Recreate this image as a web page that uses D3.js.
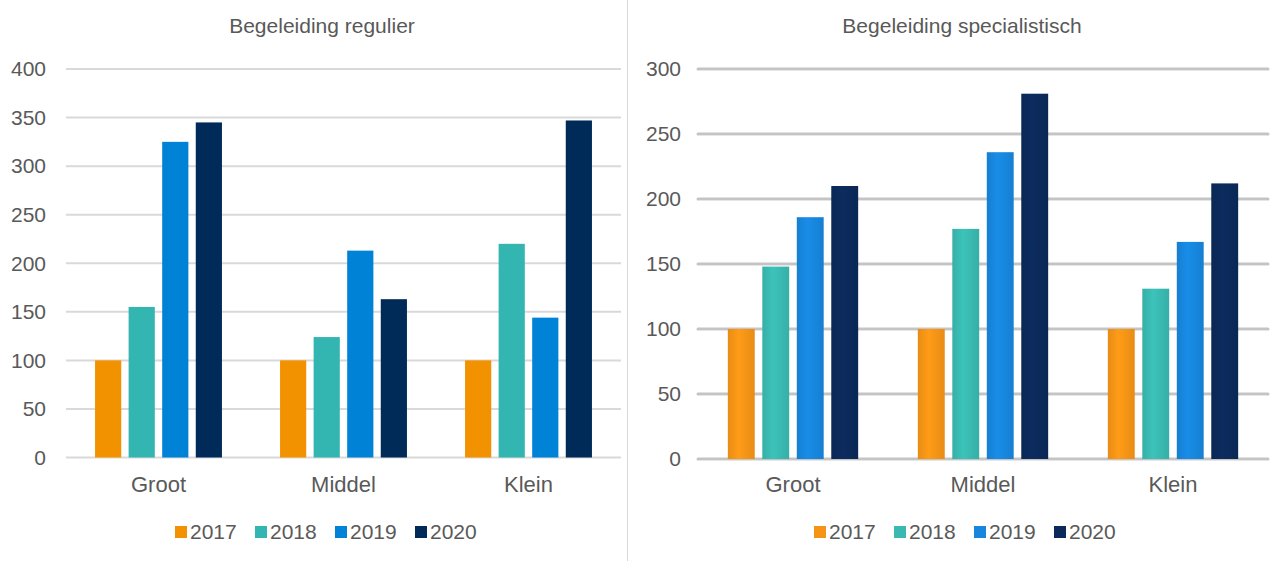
<!DOCTYPE html>
<html>
<head>
<meta charset="utf-8">
<script src="https://cdn.jsdelivr.net/npm/d3@7"></script>
<style>
  body { margin: 0; background: #fff; }
  svg { display: block; font-family: "Liberation Sans", Arial, sans-serif; }
</style>
</head>
<body>
<svg id="chart" width="1287" height="561"></svg>
<script>
// data
var categories = ["Groot", "Middel", "Klein"];
var years = ["2017", "2018", "2019", "2020"];
var reguliereValues = [
  [100, 155, 325, 345],   // Groot
  [100, 124, 213, 163],   // Middel
  [100, 220, 144, 347]    // Klein
];
var specialistValues = [
  [100, 148, 186, 210],
  [100, 177, 236, 281],
  [100, 131, 167, 212]
];
var regulierTicks = [0, 50, 100, 150, 200, 250, 300, 350, 400];
var specialistTicks = [0, 50, 100, 150, 200, 250, 300];

var colorsLeft = ["#f39200", "#33b5b1", "#0082d6", "#002a58"];
var colorsRight = ["#f59416", "#39b9b0", "#1786dc", "#0b2a5a"];

var svg = d3.select("#chart");

// separator between the two charts
svg.append("line")
    .attr("x1", 627.5).attr("x2", 627.5)
    .attr("y1", 0).attr("y2", 561)
    .attr("stroke", "#d9d9d9").attr("stroke-width", 1);

var defs = svg.append("defs");
colorsRight.forEach(function(c, i) {
  var g = defs.append("linearGradient").attr("id", "grad" + i)
      .attr("x1", 0).attr("x2", 1).attr("y1", 0).attr("y2", 0);
  g.append("stop").attr("offset", "0%").attr("stop-color", d3.color(c).darker(0.15));
  g.append("stop").attr("offset", "40%").attr("stop-color", d3.color(c).brighter(0.15));
  g.append("stop").attr("offset", "100%").attr("stop-color", d3.color(c).darker(0.15));
});

function drawPanel(opt) {
  var g = svg.append("g");
  var y = d3.scaleLinear().domain([0, opt.max]).range([opt.bottom, 69]);
  var x0 = d3.scaleBand().domain(categories).range([opt.left, opt.right]).padding(0);
  var bw = x0.bandwidth();
  var pad = bw * 0.157;
  var x1 = d3.scaleBand().domain(years).range([pad, bw - pad]).paddingInner(0.22);

  // title
  g.append("text")
      .attr("x", opt.titleX).attr("y", 33)
      .attr("text-anchor", "middle")
      .attr("font-size", 21).attr("fill", "#595959")
      .text(opt.title);

  // grid
  g.selectAll(".grid")
    .data(opt.ticks)
    .enter().append("line")
      .attr("x1", opt.left).attr("x2", opt.right)
      .attr("y1", function(d) { return y(d); })
      .attr("y2", function(d) { return y(d); })
      .attr("stroke", opt.gridColor)
      .attr("stroke-width", opt.gridWidth)
      .attr("stroke-linecap", opt.fancy ? "round" : "butt");
  if (opt.fancy) {
    g.selectAll(".gridhi")
      .data(opt.ticks)
      .enter().append("line")
        .attr("x1", opt.left + 1).attr("x2", opt.right - 1)
        .attr("y1", function(d) { return y(d) + 1.5; })
        .attr("y2", function(d) { return y(d) + 1.5; })
        .attr("stroke", "#e6e6e6")
        .attr("stroke-width", 1);
  }

  // y labels
  g.selectAll(".ylab")
    .data(opt.ticks)
    .enter().append("text")
      .attr("x", opt.labelX)
      .attr("y", function(d) { return y(d); })
      .attr("dy", "0.35em")
      .attr("text-anchor", "end")
      .attr("font-size", 21).attr("fill", "#595959")
      .text(function(d) { return d; });

  // bars
  var groups = g.selectAll(".grp")
    .data(opt.values)
    .enter().append("g")
      .attr("transform", function(d, i) { return "translate(" + x0(categories[i]) + ",0)"; });
  groups.selectAll("rect")
    .data(function(d) { return d; })
    .enter().append("rect")
      .attr("x", function(d, j) { return x1(years[j]); })
      .attr("y", function(d) { return y(d); })
      .attr("width", x1.bandwidth())
      .attr("height", function(d) { return y(0) - y(d); })
      .attr("fill", function(d, j) { return opt.fancy ? "url(#grad" + j + ")" : opt.colors[j]; });

  // x labels
  g.selectAll(".xlab")
    .data(categories)
    .enter().append("text")
      .attr("x", function(d) { return x0(d) + bw / 2; })
      .attr("y", 492)
      .attr("text-anchor", "middle")
      .attr("font-size", 22).attr("fill", "#595959")
      .text(function(d) { return d; });

  // legend
  var leg = g.selectAll(".leg")
    .data(years)
    .enter().append("g")
      .attr("transform", function(d, i) { return "translate(" + (opt.legendX + i * 80) + ",532)"; });
  leg.append("rect")
      .attr("x", 0).attr("y", -6)
      .attr("width", 12).attr("height", 12)
      .attr("fill", function(d, i) { return opt.colors[i]; });
  leg.append("text")
      .attr("x", 15).attr("y", 0)
      .attr("dy", "0.35em")
      .attr("font-size", 21).attr("fill", "#595959")
      .text(function(d) { return d; });
}

drawPanel({
  title: "Begeleiding regulier", titleX: 322,
  values: reguliereValues, ticks: regulierTicks, max: 400, bottom: 457.5,
  left: 66, right: 621, labelX: 46,
  colors: colorsLeft, gridColor: "#d9d9d9", gridWidth: 2,
  legendX: 175, fancy: false
});

drawPanel({
  title: "Begeleiding specialistisch", titleX: 962,
  values: specialistValues, ticks: specialistTicks, max: 300, bottom: 459,
  left: 698, right: 1268, labelX: 681,
  colors: colorsRight, gridColor: "#c4c4c4", gridWidth: 3,
  legendX: 814, fancy: true
});
</script>
</body>
</html>
